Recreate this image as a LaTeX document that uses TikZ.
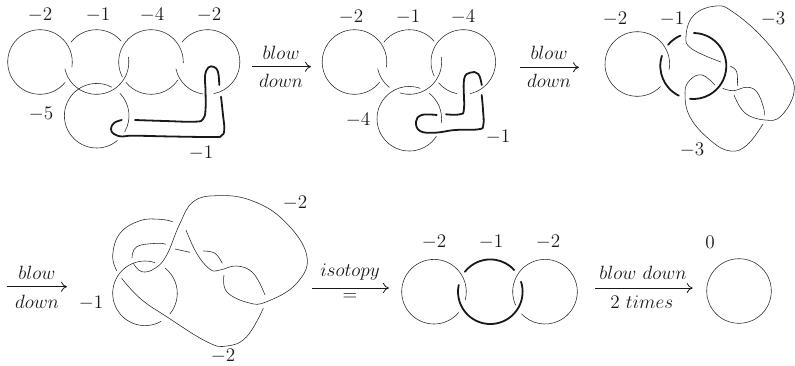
\documentclass[tikz,border=0pt]{standalone}
\usetikzlibrary{arrows.meta}
\newcommand\karc[6][thinline]{\draw[#1] ({#2+#4*cos(#5)},{#3+#4*sin(#5)}) arc[start angle=#5,end angle=#6,radius=#4];}
\newcommand\kcurve[2][thinline]{\draw[#1] plot[smooth,tension=0.7] coordinates {#2};}
\tikzset{
  thinline/.style={line width=0.42pt,black!85},
  boldline/.style={line width=1.35pt,black!90,line cap=round},
  lab/.style={font=\Large,inner sep=0pt,text=black!90},
  movearrow/.style={-{Computer Modern Rightarrow[length=4.5pt,width=7.5pt]},line width=0.6pt,black!90},
}
\begin{document}
\begin{tikzpicture}[x=0.75pt,y=0.75pt,yscale=-1]
\useasboundingbox (0,0) rectangle (795,365);
% panel 1
\karc{40}{62}{32.3}{39}{369}
\karc{96.5}{62}{32.3}{218}{320}
\karc{96.5}{62}{32.3}{-9}{168}
\karc{151}{62}{32.3}{152}{362}
\karc{151}{62}{32.3}{141}{34}
\karc{207.5}{62}{32.3}{218}{439}
\karc{207.5}{62}{32.3}{168}{98}
\karc{96.7}{115.7}{32.3}{50}{298}
\karc{96.7}{115.7}{32.3}{316}{390}
\kcurve[boldline]{(121.7,120)(114,123)(111,129)(114,134)(122,136.5)(133,135.7)(172,136.5)(213,137)(221,136)(224.3,130)(223,115)(221,96.7)}
\kcurve[boldline]{(135,120)(165,121)(195,121.7)(203,119)(205.5,110)(205.5,90)(205,76)(208.3,67.5)(214,67)(218,72)(219.3,85)}
\node[lab] (p1a) at (40,15) {$-2$};
\node[lab] (p1b) at (98,15) {$-1$};
\node[lab] (p1c) at (152,15) {$-4$};
\node[lab] (p1d) at (209,15) {$-2$};
\node[lab] (p1e) at (41,114) {$-5$};
\node[lab] (p1f) at (201,153) {$-1$};
% arrow 1
\coordinate (a1s) at (252,66.7); \coordinate (a1e) at (311,66.7);
\draw[movearrow] (a1s) -- (a1e);
\node[lab] (a1t) at (281,53) {$blow$};
\node[lab] (a1b) at (281,81) {$down$};
% panel 2
\karc{354.5}{62}{32.3}{39}{369}
\karc{409.3}{62}{32.3}{218}{320}
\karc{409.3}{62}{32.3}{-9}{107}
\karc{409.3}{62}{32.3}{128}{168}
\karc{409.3}{118.7}{32.3}{33}{290}
\karc{409.3}{118.7}{32.3}{308}{368}
\karc{463.3}{62}{32.3}{154}{438}
\karc{463.3}{62}{32.3}{140}{101}
\kcurve[boldline]{(436.7,115)(421.7,115)(416,121.7)(420,131)(435,132.7)(455,130)(478.3,129.3)(483.3,125)(483,110)(481.7,95)}
\kcurve[boldline]{(446,114.3)(460,114.3)(464,108.3)(464,80)(470,72.7)(478.3,74)(481.7,85)}
\node[lab] (p2a) at (351,17) {$-2$};
\node[lab] (p2b) at (408,17) {$-1$};
\node[lab] (p2c) at (463,17) {$-4$};
\node[lab] (p2d) at (358,120) {$-4$};
\node[lab] (p2e) at (498,137) {$-1$};
% arrow 2
\coordinate (a2s) at (520,67.3); \coordinate (a2e) at (579,67.3);
\draw[movearrow] (a2s) -- (a2e);
\node[lab] (a2t) at (549,53) {$blow$};
\node[lab] (a2b) at (549,81) {$down$};
% panel 3
\karc{637.3}{64}{32.3}{44}{370}
\karc[boldline]{693.3}{66}{33}{220}{247}
\karc[boldline]{693.3}{66}{33}{-89}{96}
\karc[boldline]{693.3}{66}{33}{116}{198}
\kcurve{(721,62)(692,49)(686,36)(694,15)(716,6)(733,12)(763,38)(787,70)(794,92)(781,116)(765,120)(745,113)(734,95)}
\kcurve{(730,66)(736.7,71.7)(737.3,86)}
\kcurve{(722.7,88.3)(733.3,90.7)(746.7,87.3)(756.7,91.7)(763.3,106.7)(764.3,115)}
\kcurve{(715,85)(702,75)(690,80)(685,93)(690,117)(710,140)(730,151)(747,145)(763,124)}
\node[lab] (p3a) at (615,19.5) {$-2$};
\node[lab] (p3b) at (672,19.5) {$-1$};
\node[lab] (p3c) at (773,19.5) {$-3$};
\node[lab] (p3d) at (692,150) {$-3$};
% arrow 3
\coordinate (a3s) at (7,286.7); \coordinate (a3e) at (67,286.7);
\draw[movearrow] (a3s) -- (a3e);
\node[lab] (a3t) at (37,273) {$blow$};
\node[lab] (a3b) at (37,301.7) {$down$};
% panel 4
\karc{145}{293.3}{32.3}{60}{288}
\karc{145}{293.3}{32.3}{309}{400}
\kcurve{(172.7,221.7)(160,219.3)(140,220.7)(120,233.3)(112.7,255)(116.7,270.7)}
\kcurve{(121.7,278.3)(140,298.3)(166.7,316.7)(206.7,341.7)(226.7,346)(246.7,336.7)(263.3,308.3)}
\kcurve{(133.3,263.3)(141.7,271.7)(155,268.3)(166.7,255)(180,223.3)(193.3,201.7)(216.7,195.7)(250,200)(283.3,220)(306.7,255)(296.7,283.3)(266.7,301.7)(248.3,302.7)(226.7,291.7)(224,275)}
\kcurve{(132,258)(136.7,246.7)(156.7,243.3)(165.7,244.3)}
\kcurve{(175,249)(190,252.3)}
\kcurve{(203.3,251)(215,253.3)(222.3,263.3)}
\kcurve{(186,230)(196.7,253.3)(210,269.3)(220,270)(236.7,266)(253.3,273.3)(265,295)}
\node[lab] (p4a) at (295,203) {$-2$};
\node[lab] (p4b) at (91,303) {$-1$};
\node[lab] (p4c) at (223,356.5) {$-2$};
% arrow 4
\coordinate (a4s) at (312,288); \coordinate (a4e) at (389,288);
\draw[movearrow] (a4s) -- (a4e);
\node[lab] (a4t) at (350,271.7) {$isotopy$};
\node[lab] (a4b) at (350,296.7) {$=$};
% panel 5
\karc{434}{291.7}{32.3}{40}{375}
\karc[boldline]{490.3}{291.7}{32.3}{218}{318}
\karc[boldline]{490.3}{291.7}{32.3}{-18}{192}
\karc{545}{291.7}{32.3}{155}{497}
\node[lab] (p5a) at (434,242) {$-2$};
\node[lab] (p5b) at (491,242) {$-1$};
\node[lab] (p5c) at (548,242) {$-2$};
% arrow 5
\coordinate (a5s) at (595,288); \coordinate (a5e) at (692.7,288);
\draw[movearrow] (a5s) -- (a5e);
\node[lab] (a5t) at (643,273) {$blow\ down$};
\node[lab] (a5b) at (641.7,301.7) {$2\ times$};
% panel 6
\node[draw,thinline,circle,minimum size=48.45pt,inner sep=0pt] (o) at (739,291) {};
\node[lab] (p6a) at (710,242) {$0$};
\end{tikzpicture}
\end{document}
